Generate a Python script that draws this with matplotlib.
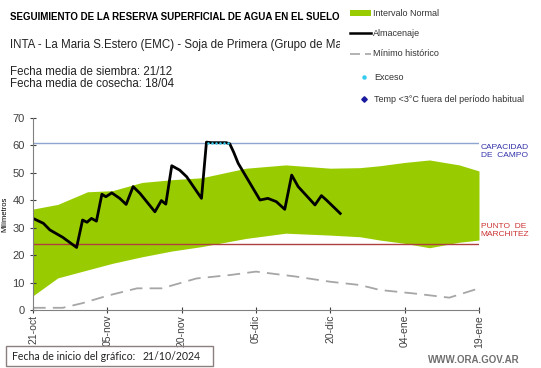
import matplotlib
matplotlib.use("Agg")
from matplotlib import pyplot as plt
from matplotlib.transforms import Bbox, TransformedBbox
from matplotlib.patches import Rectangle
from matplotlib.lines import Line2D

plt.rcParams['font.family'] = ['Liberation Sans', 'DejaVu Sans']

# days counted from 21-oct-2024
tick_days = [0, 15, 30, 45, 60, 75, 90]
tick_labels = ["21-oct", "05-nov", "20-nov", "05-dic", "20-dic", "04-ene", "19-ene"]

band_days = [0, 5, 11, 16, 22, 28, 34, 43, 51, 60, 66, 70, 75, 80, 86, 90]
band_top = [36.8, 38.5, 43.1, 43.5, 46.5, 47.5, 48.2, 51.7, 52.9, 51.7, 51.9, 52.6, 53.8, 54.7, 52.9, 50.7]
band_bot = [5.2, 11.7, 14.6, 17.0, 19.4, 21.5, 23.1, 26.1, 28.0, 27.3, 26.7, 25.5, 24.3, 22.7, 24.7, 25.5]

min_days = [0, 6, 10, 15, 21, 26, 33, 40, 45, 53, 60, 66, 70, 77, 84, 90]
min_vals = [0.8, 0.8, 2.5, 5.2, 7.9, 7.9, 11.5, 12.8, 14.0, 12.2, 10.3, 9.1, 7.3, 6.0, 4.5, 7.9]

alm_days = [0, 2.1, 3.4, 6, 8.8, 10, 10.9, 11.8, 12.8, 13.9, 14.7, 15.9, 17.5, 18.8,
            20.2, 21.6, 24.6, 25.9, 26.8, 28, 29.6, 31, 34, 35, 36, 37, 38, 39, 39.7,
            40.5, 41.4, 45.8, 47.4, 49.1, 50.8, 52.2, 53.5, 56.9, 58.2, 59.2, 62]
alm_vals = [33.4, 31.6, 29.2, 26.5, 22.8, 32.8, 32.0, 33.4, 32.4, 42.2, 41.3, 42.7, 40.7, 38.5,
            45.0, 42.5, 35.8, 39.9, 38.6, 52.6, 51.0, 48.6, 40.7, 61.2, 61.0, 61.0, 61.0, 61.0, 60.6,
            57.5, 53.5, 40.1, 40.7, 39.5, 36.7, 49.2, 45.0, 38.3, 41.7, 40.1, 35.2]

exc_days = [35.4, 36.2, 37.0, 37.8, 38.6, 39.4]
exc_vals = [61, 61, 61, 61, 61, 61]

capacidad = 61
marchitez = 24

fig = plt.figure(figsize=(5.41, 3.68), dpi=100)
ax = fig.add_axes([33 / 541, 58 / 368, 446 / 541, 192 / 368])

ax.fill_between(band_days, band_bot, band_top, color="#99cc00", linewidth=0)
ax.axhline(capacidad, color="#8ea5cf", linewidth=1)
ax.axhline(marchitez, color="#b04040", linewidth=1)
ax.plot(min_days, min_vals, color="#a6a6a6", linewidth=1.3, dashes=(7, 4))
ax.plot(alm_days, alm_vals, color="black", linewidth=2)
ax.plot(exc_days, exc_vals, linestyle="none", marker="o", markersize=1.8,
        markeredgewidth=0, color="#33ccee")

ax.set_xlim(0, 90)
ax.set_ylim(0, 70)
ax.set_xticks(tick_days)
ax.set_xticklabels(tick_labels, rotation=90, fontsize=7.5, color="#404040")
ax.set_yticks(range(0, 71, 10))
ax.tick_params(axis="y", labelsize=8, colors="#404040", direction="inout", length=5)
ax.tick_params(axis="x", colors="#404040", direction="inout", length=5, pad=1)
for s in ["top", "right"]:
    ax.spines[s].set_visible(False)
for s in ["left", "bottom"]:
    ax.spines[s].set_color("#808080")
ax.set_ylabel("Milímetros", fontsize=5.5, labelpad=3)

ax.text(1.004, capacidad - 0.5, "CAPACIDAD\nDE  CAMPO", transform=ax.get_yaxis_transform(),
        fontsize=6, color="#3333aa", va="top", ha="left", linespacing=1.2)
ax.text(1.004, marchitez + 2.4, "PUNTO  DE\nMARCHITEZ", transform=ax.get_yaxis_transform(),
        fontsize=6, color="#cc3333", va="bottom", ha="left", linespacing=1.2)

# header texts
fig.text(10 / 541, 1 - 17 / 368, "SEGUIMIENTO DE LA RESERVA SUPERFICIAL DE AGUA EN EL SUELO",
         fontsize=7, fontweight="bold", va="center")
t = fig.text(10 / 541, 1 - 45 / 368, "INTA - La Maria S.Estero (EMC) - Soja de Primera (Grupo de Madurez)",
             fontsize=8.3, va="center", color="#222222")
t.set_clip_box(TransformedBbox(Bbox([[0, 0], [340 / 541, 1]]), fig.transFigure))
t.set_clip_on(True)
fig.text(10 / 541, 1 - 78 / 368, "Fecha media de siembra: 21/12\nFecha media de cosecha: 18/04",
         fontsize=8.3, va="center", color="#222222", linespacing=1.0)

# legend
lx0, lx1 = 350 / 541, 371 / 541
fig.patches.append(Rectangle((lx0, 1 - 16 / 368), lx1 - lx0, 6 / 368, transform=fig.transFigure,
                             color="#99cc00", linewidth=0))
fig.lines.append(Line2D([lx0, lx1], [1 - 33 / 368] * 2, transform=fig.transFigure,
                        color="black", linewidth=1.8))
fig.lines.append(Line2D([lx0, lx1], [1 - 54 / 368] * 2, transform=fig.transFigure,
                        color="#a6a6a6", linewidth=1.2, dashes=(6, 3)))
fig.lines.append(Line2D([364 / 541], [1 - 77 / 368], transform=fig.transFigure,
                        marker="o", markersize=2.2, color="#33ccee", linestyle="none"))
fig.lines.append(Line2D([364 / 541], [1 - 99 / 368], transform=fig.transFigure,
                        marker="D", markersize=2.8, color="#1a1aa0", linestyle="none"))
leg_labels = ["Intervalo Normal", "Almacenaje", "Mínimo histórico", "Exceso",
              "Temp <3°C fuera del período habitual"]
leg_y = [13, 33, 54, 77, 99]
leg_x = [373, 373, 373, 374, 374]
for lab, yy, xx in zip(leg_labels, leg_y, leg_x):
    fig.text(xx / 541, 1 - yy / 368, lab, fontsize=6.5, va="center", color="#333333")

# footer
fig.text(12 / 541, 1 - 356 / 368, "Fecha de inicio del gráfico:", fontsize=7.6, va="center",
         family=["Lato", "DejaVu Sans"], color="#222222")
fig.text(143 / 541, 1 - 356 / 368, "21/10/2024", fontsize=7.6, va="center",
         family=["Lato", "DejaVu Sans"], color="#222222")
fig.patches.append(Rectangle((6 / 541, 1 - 366 / 368), 207 / 541, 20 / 368, transform=fig.transFigure,
                             fill=False, edgecolor="#8c7f7f", linewidth=1))
fig.text(520 / 541, 1 - 360 / 368, "WWW.ORA.GOV.AR", fontsize=7, fontweight="bold",
         ha="right", va="center", color="#707070")

fig.savefig("out.png", dpi=100)
